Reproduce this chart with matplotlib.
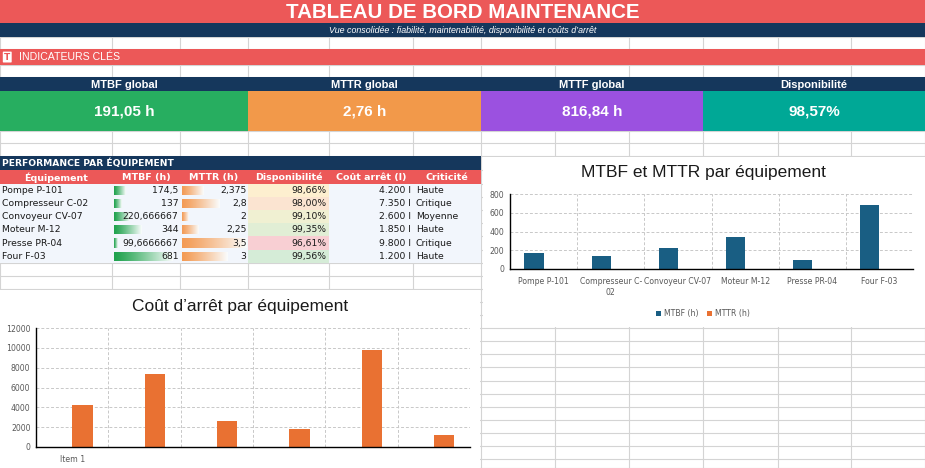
import numpy as np
import matplotlib
matplotlib.use("Agg")
import matplotlib.pyplot as plt
from matplotlib.patches import Rectangle, FancyBboxPatch
from matplotlib.colors import to_rgb

# --- data -------------------------------------------------------------
equipements = ["Pompe P-101", "Compresseur C-02", "Convoyeur CV-07",
               "Moteur M-12", "Presse PR-04", "Four F-03"]
chart_labels = ["Pompe P-101", "Compresseur C-\n02", "Convoyeur CV-07",
                "Moteur M-12", "Presse PR-04", "Four F-03"]
mtbf = [174.5, 137, 220.666667, 344, 99.6666667, 681]
mttr = [2.375, 2.8, 2, 2.25, 3.5, 3]
dispo = [98.66, 98.00, 99.10, 99.35, 96.61, 99.56]
cout = [4200, 7350, 2600, 1850, 9800, 1200]
criticite = ["Haute", "Critique", "Moyenne", "Haute", "Critique", "Haute"]
cout_ticks = ["Item 1"]

kpi_labels = ["MTBF global", "MTTR global", "MTTF global", "Disponibilité"]
kpi_values = ["191,05 h", "2,76 h", "816,84 h", "98,57%"]
table_headers = ["Équipement", "MTBF (h)", "MTTR (h)", "Disponibilité",
                 "Coût arrêt (l)", "Criticité"]

# --- colours ----------------------------------------------------------
RED = "#EC5858"
NAVY = "#15375C"
GRID = "#D4D4D4"
KPI_COLORS = ["#27AE60", "#F2994A", "#9B51E0", "#00A896"]
BLUE_BAR = "#195E83"
ORANGE_BAR = "#E97132"

W, H = 925, 468
fig = plt.figure(figsize=(W / 100, H / 100), dpi=100)
bg = fig.add_axes([0, 0, 1, 1])
bg.set_xlim(0, W)
bg.set_ylim(H, 0)
bg.axis("off")

# spreadsheet grid
cols = [0, 112, 180, 248, 329, 413, 481, 555, 629, 703, 778, 851, 925]
rows = [0, 23, 37, 49, 65, 77, 91, 131, 143, 156, 170, 184, 197, 210, 223,
        236, 250, 263, 276, 289, 302, 315, 328, 341, 354, 367, 381, 394,
        407, 420, 433, 446, 459, 468]
bg.vlines(cols, 0, H, color=GRID, lw=0.8, zorder=0)
bg.hlines(rows, 0, W, color=GRID, lw=0.8, zorder=0)


def band(x, y, w, h, color, z=1):
    bg.add_patch(Rectangle((x, y), w, h, facecolor=color, edgecolor="none", zorder=z))


# header bands
band(0, 0, W, 23, RED)
band(0, 23, W, 14, NAVY)
band(0, 49, W, 16, RED)
band(0, 77, W, 14, NAVY)
kpi_x = [0, 248, 481, 703, 925]
for i, (lab, val) in enumerate(zip(kpi_labels, kpi_values)):
    band(kpi_x[i], 91, kpi_x[i + 1] - kpi_x[i], 40, KPI_COLORS[i])
    cx = (kpi_x[i] + kpi_x[i + 1]) / 2
    bg.text(cx, 84.5, lab, color="white", fontsize=8, fontweight="bold",
            family="Liberation Sans", ha="center", va="center", zorder=5)
    bg.text(cx, 111.5, val, color="white", fontsize=11, fontweight="bold",
            family="Liberation Sans", ha="center", va="center", zorder=5)

bg.text(W / 2, 12, "TABLEAU DE BORD MAINTENANCE", color="white", fontsize=14.8,
        fontweight="bold", family="Liberation Sans", ha="center", va="center", zorder=5)
bg.text(W / 2, 30.5, "Vue consolidée : fiabilité, maintenabilité, disponibilité et coûts d’arrêt",
        color="white", fontsize=6.4, style="italic", family="Liberation Sans",
        ha="center", va="center", zorder=5)
bg.add_patch(FancyBboxPatch((3.5, 52.3), 7.5, 9.5, boxstyle="round,pad=0.7",
                            facecolor="white", edgecolor="none", zorder=4))
bg.text(7.2, 57.2, "T", color=RED, fontsize=6.5, fontweight="bold", ha="center",
        va="center", zorder=5)
bg.text(19, 57.5, "INDICATEURS CLÉS", color="white", fontsize=7.6,
        family="Liberation Sans", ha="left", va="center", zorder=5)

# --- table ------------------------------------------------------------
tbl_w = 481
band(0, 156, tbl_w, 14, NAVY)
band(0, 170, tbl_w, 14, RED)
row_top = rows[11:18]
band(0, row_top[0], tbl_w, row_top[-1] - row_top[0], "#F2F6FC")
bg.text(2, 163.3, "PERFORMANCE PAR ÉQUIPEMENT", color="white", fontsize=6.6,
        fontweight="bold", ha="left", va="center", zorder=5)
tcols = [0, 113, 180, 248, 329, 413, 481]
for j, h in enumerate(table_headers):
    bg.text((tcols[j] + tcols[j + 1]) / 2, 177.3, h, color="white", fontsize=6.8,
            fontweight="bold", ha="center", va="center", zorder=5)


def gradient_bar(x0, length, y0, h, color):
    c = np.array(to_rgb(color))
    t = np.linspace(0, 1, 64)[:, None] ** 1.2
    img = (1 - t) * c + t * np.array([0.98, 0.99, 0.99])
    bg.imshow(img[None, :, :], extent=(x0, x0 + length, y0 + h, y0),
              aspect="auto", interpolation="bilinear", zorder=3)


def bar_len(v, vals, lo, hi):
    return lo + (v - min(vals)) / (max(vals) - min(vals)) * (hi - lo)


pink, yellow, green = (np.array(to_rgb(c)) for c in ("#F8CFD3", "#FDF2CF", "#D5ECD7"))
d_lo, d_mid, d_hi = min(dispo), float(np.median(dispo)), max(dispo)


def dispo_color(v):
    if v <= d_mid:
        t = (v - d_lo) / (d_mid - d_lo)
        return (1 - t) * pink + t * yellow
    t = (v - d_mid) / (d_hi - d_mid)
    return (1 - t) * yellow + t * green


def fr(v):
    return f"{v:.10g}".replace(".", ",")


for i, name in enumerate(equipements):
    y0, y1 = row_top[i], row_top[i + 1]
    yc = (y0 + y1) / 2 + 0.3
    band(248, y0, 81, y1 - y0, dispo_color(dispo[i]), z=2)
    gradient_bar(114, bar_len(mtbf[i], mtbf, 4, 59), y0 + 2.5, y1 - y0 - 4.5, "#1FA24D")
    gradient_bar(181.5, bar_len(mttr[i], mttr, 7, 65), y0 + 2.5, y1 - y0 - 4.5, "#F39B55")
    kw = dict(fontsize=6.7, color="#1a1a1a", va="center", zorder=5)
    bg.text(2, yc, name, ha="left", **kw)
    bg.text(178.5, yc, fr(mtbf[i]), ha="right", **kw)
    bg.text(246.5, yc, fr(mttr[i]), ha="right", **kw)
    bg.text(326.5, yc, f"{dispo[i]:.2f}%".replace(".", ","), ha="right", **kw)
    bg.text(411, yc, f"{cout[i]:,}".replace(",", ".") + " l", ha="right", **kw)
    bg.text(416, yc, criticite[i], ha="left", **kw)

bg.set_xlim(0, W)
bg.set_ylim(H, 0)

# chart areas
band(482.5, 157, W - 482.5, 170, "white", z=2)
band(0, 290, 480, H - 290, "white", z=2)

TICK = "#595959"


def style_chart(ax, ymax, step):
    ax.set_xlim(-0.5, 5.5)
    ax.set_ylim(0, ymax)
    ax.set_yticks(np.arange(0, ymax + 1, step))
    ax.set_xticks(np.arange(-0.5, 6, 1), minor=True)
    ax.grid(axis="y", color="#C8C8C8", ls=(0, (3, 2)), lw=0.7)
    ax.grid(axis="x", which="minor", color="#C8C8C8", ls=(0, (3, 2)), lw=0.7)
    ax.set_axisbelow(True)
    for s in ("top", "right"):
        ax.spines[s].set_visible(False)
    for s in ("left", "bottom"):
        ax.spines[s].set_color("black")
        ax.spines[s].set_linewidth(1.0)
    ax.tick_params(which="both", length=0, labelsize=5.6, colors=TICK)
    ax.tick_params(axis="y", pad=4)
    ax.tick_params(axis="x", pad=6)
    ax.set_facecolor("white")


x = np.arange(len(equipements))
w = 0.285

ax1 = fig.add_axes([510 / W, 1 - 269 / H, (913 - 510) / W, (269 - 194) / H], zorder=3)
ax1.bar(x - w / 2, mtbf, w, color=BLUE_BAR, label="MTBF (h)")
ax1.bar(x + w / 2, mttr, w, color=ORANGE_BAR, label="MTTR (h)")
style_chart(ax1, 800, 200)
ax1.set_xticks(x)
ax1.set_xticklabels(chart_labels, linespacing=1.3)
ax1.legend(loc="center", bbox_to_anchor=(703 / W, 1 - 313.5 / H),
           bbox_transform=fig.transFigure, ncol=2, frameon=False, fontsize=5.6,
           handlelength=0.6, handleheight=0.6, handletextpad=0.4,
           columnspacing=1.2, labelcolor=TICK)
fig.text(703 / W, 1 - 173 / H, "MTBF et MTTR par équipement", fontsize=12.5,
         family="Liberation Sans", ha="center", va="center", color="#1a1a1a", zorder=6)

ax2 = fig.add_axes([36 / W, 1 - 447 / H, (470 - 36) / W, (447 - 328) / H], zorder=3)
ax2.bar(x + w / 2, cout, w, color=ORANGE_BAR)
style_chart(ax2, 12000, 2000)
ax2.set_xticks(x[:len(cout_ticks)])
ax2.set_xticklabels(cout_ticks)
fig.text(240 / W, 1 - 307 / H, "Coût d’arrêt par équipement", fontsize=12.5,
         family="Liberation Sans", ha="center", va="center", color="#1a1a1a", zorder=6)

fig.savefig("out.png", dpi=100)
